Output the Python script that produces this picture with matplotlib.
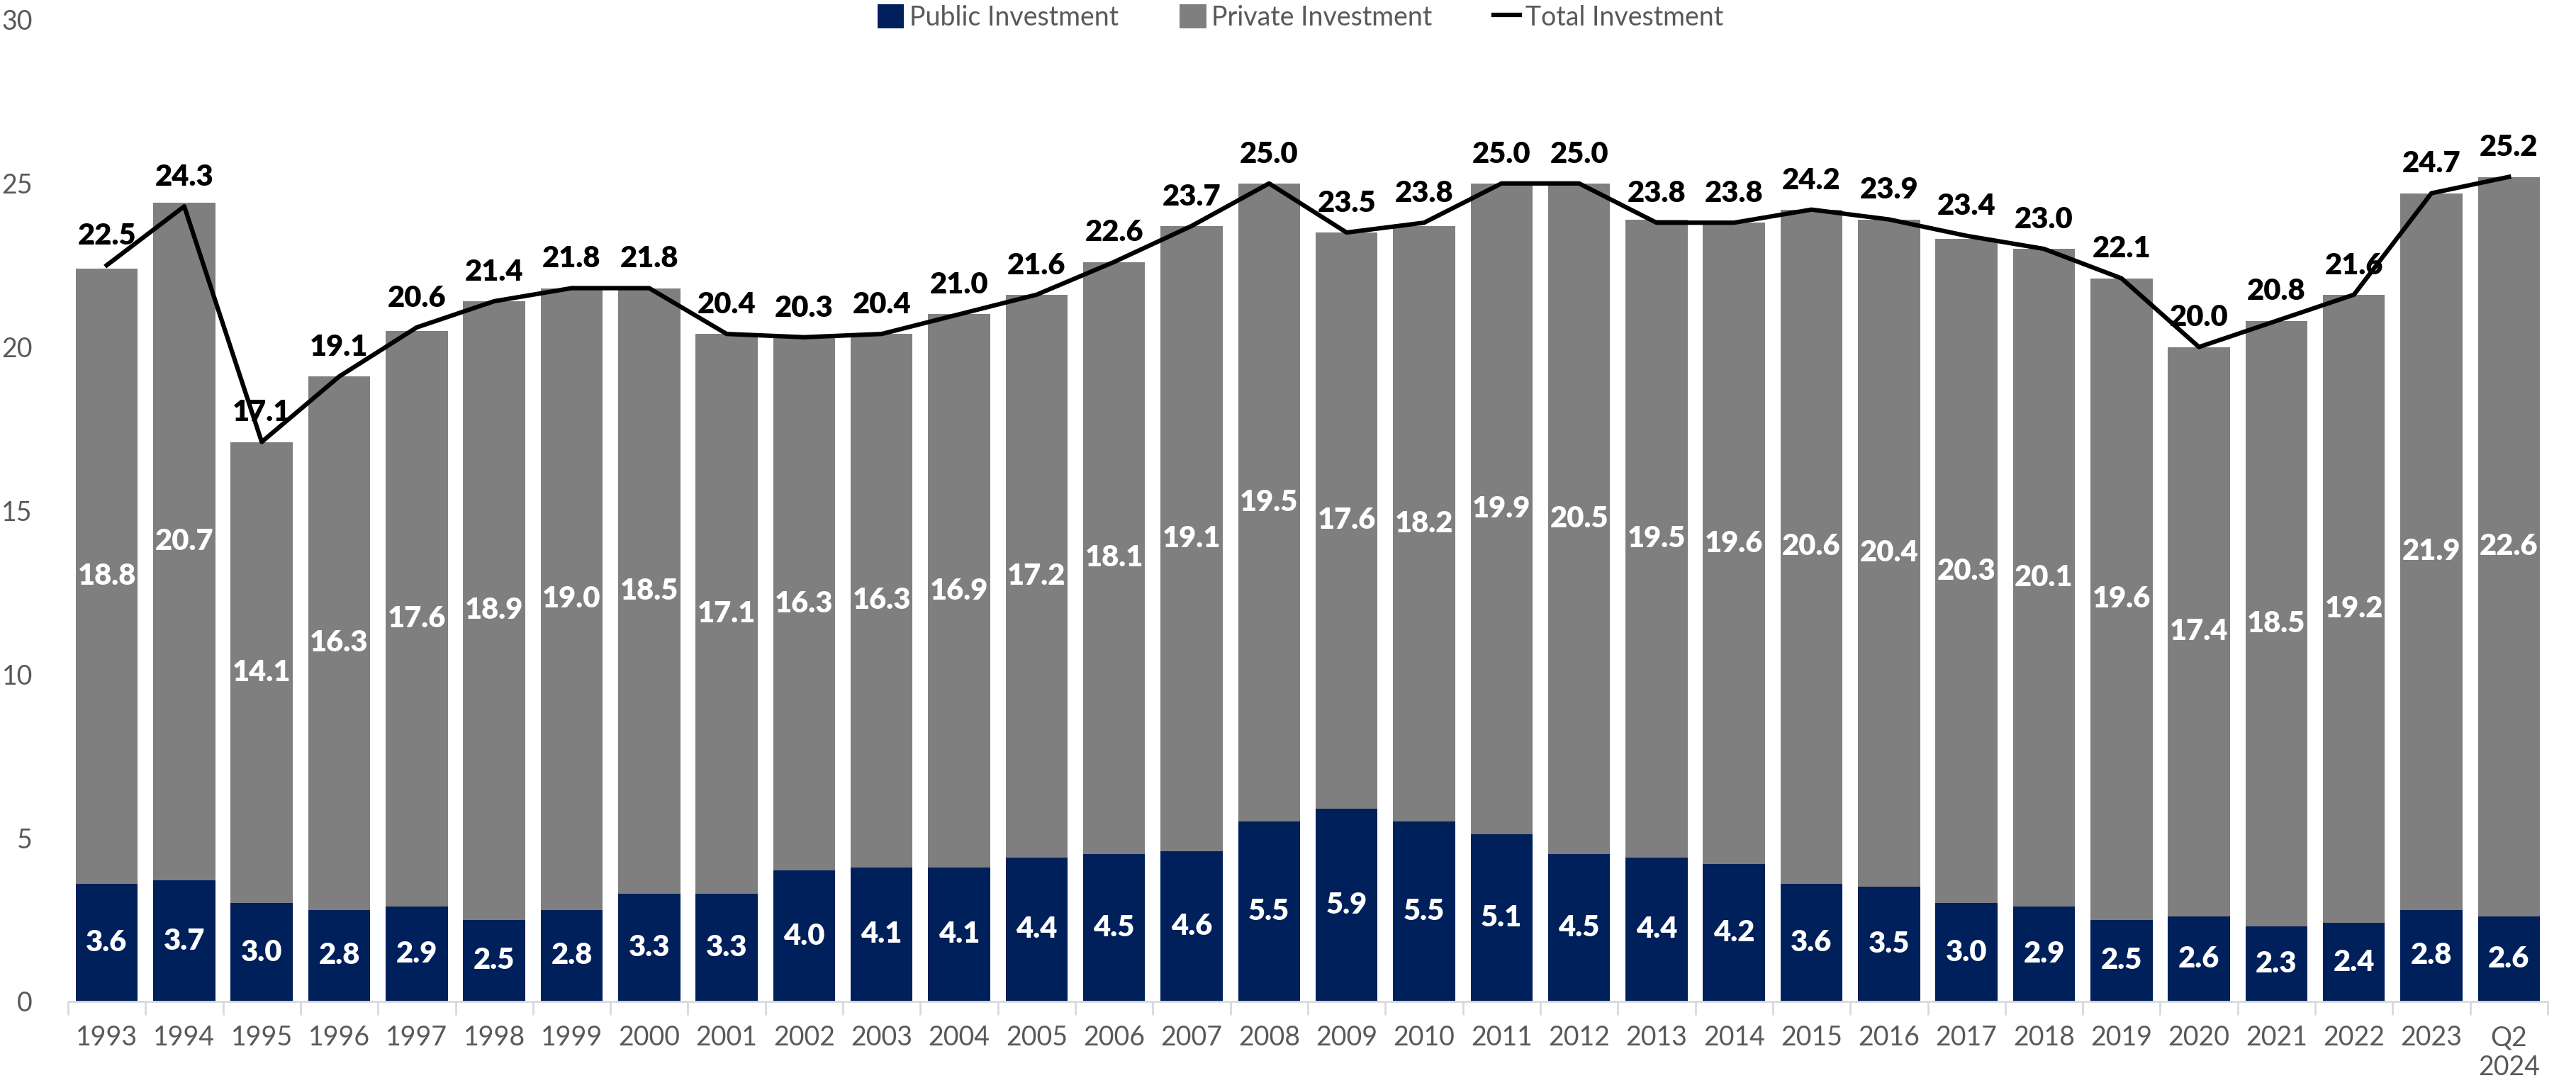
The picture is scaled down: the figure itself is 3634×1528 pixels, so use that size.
import matplotlib.pyplot as plt
import numpy as np

plt.rcParams['font.family'] = ['Lato', 'DejaVu Sans']

years = ['1993','1994','1995','1996','1997','1998','1999','2000','2001','2002',
         '2003','2004','2005','2006','2007','2008','2009','2010','2011','2012',
         '2013','2014','2015','2016','2017','2018','2019','2020','2021','2022',
         '2023','Q2\n2024']
public = [3.6,3.7,3.0,2.8,2.9,2.5,2.8,3.3,3.3,4.0,4.1,4.1,4.4,4.5,4.6,5.5,5.9,5.5,
          5.1,4.5,4.4,4.2,3.6,3.5,3.0,2.9,2.5,2.6,2.3,2.4,2.8,2.6]
private = [18.8,20.7,14.1,16.3,17.6,18.9,19.0,18.5,17.1,16.3,16.3,16.9,17.2,18.1,
           19.1,19.5,17.6,18.2,19.9,20.5,19.5,19.6,20.6,20.4,20.3,20.1,19.6,17.4,
           18.5,19.2,21.9,22.6]
total = [22.5,24.3,17.1,19.1,20.6,21.4,21.8,21.8,20.4,20.3,20.4,21.0,21.6,22.6,
         23.7,25.0,23.5,23.8,25.0,25.0,23.8,23.8,24.2,23.9,23.4,23.0,22.1,20.0,
         20.8,21.6,24.7,25.2]

navy = '#00205B'
grey = '#7F7F7F'
txt = '#595959'

x = np.arange(len(years))
public = np.array(public)
private = np.array(private)

fig = plt.figure(figsize=(36.34, 15.28), dpi=100)
ax = fig.add_axes([0.0264, 0.0753, 0.9626, 0.9064])

b1 = ax.bar(x, public, width=0.8, color=navy, label='Public Investment', zorder=2)
b2 = ax.bar(x, private, width=0.8, bottom=public, color=grey, label='Private Investment', zorder=2)
l1, = ax.plot(x, total, color='black', linewidth=4.5, label='Total Investment', zorder=3)

# segment values inside bars, totals above the line
for i in range(len(x)):
    ax.text(x[i], public[i] / 2, f'{public[i]:.1f}', ha='center', va='center',
            color='white', fontsize=30, fontweight='heavy', zorder=4)
    ax.text(x[i], public[i] + private[i] / 2, f'{private[i]:.1f}', ha='center', va='center',
            color='white', fontsize=30, fontweight='heavy', zorder=4)
    ax.annotate(f'{total[i]:.1f}', (x[i], total[i]), xytext=(0, 16), textcoords='offset points',
                ha='center', va='bottom', color='black', fontsize=30, fontweight='heavy', zorder=4)

ax.set_xlim(-0.5, len(x) - 0.5)
ax.set_ylim(0, 30)
ax.set_yticks(range(0, 31, 5))
ax.set_xticks(x)
ax.set_xticklabels(years)
ax.set_xticks(np.arange(-0.5, len(x), 1), minor=True)
ax.tick_params(axis='x', which='major', length=0, labelsize=27, labelcolor=txt, pad=24)
ax.tick_params(axis='x', which='minor', length=14, width=2, color='#D9D9D9')
ax.tick_params(axis='y', length=0, labelsize=27, labelcolor=txt, pad=36)

for s in ['top', 'right', 'left']:
    ax.spines[s].set_visible(False)
ax.spines['bottom'].set_color('#D9D9D9')
ax.spines['bottom'].set_linewidth(2)

leg = ax.legend([b1, b2, l1], ['Public Investment', 'Private Investment', 'Total Investment'],
                loc='upper center', bbox_to_anchor=(0.497, 1.04), ncol=3, frameon=False,
                fontsize=27, handlelength=1.0, handleheight=1.0, handletextpad=0.2,
                columnspacing=2.3)
for t in leg.get_texts():
    t.set_color(txt)

fig.savefig('out.png', dpi=100)
